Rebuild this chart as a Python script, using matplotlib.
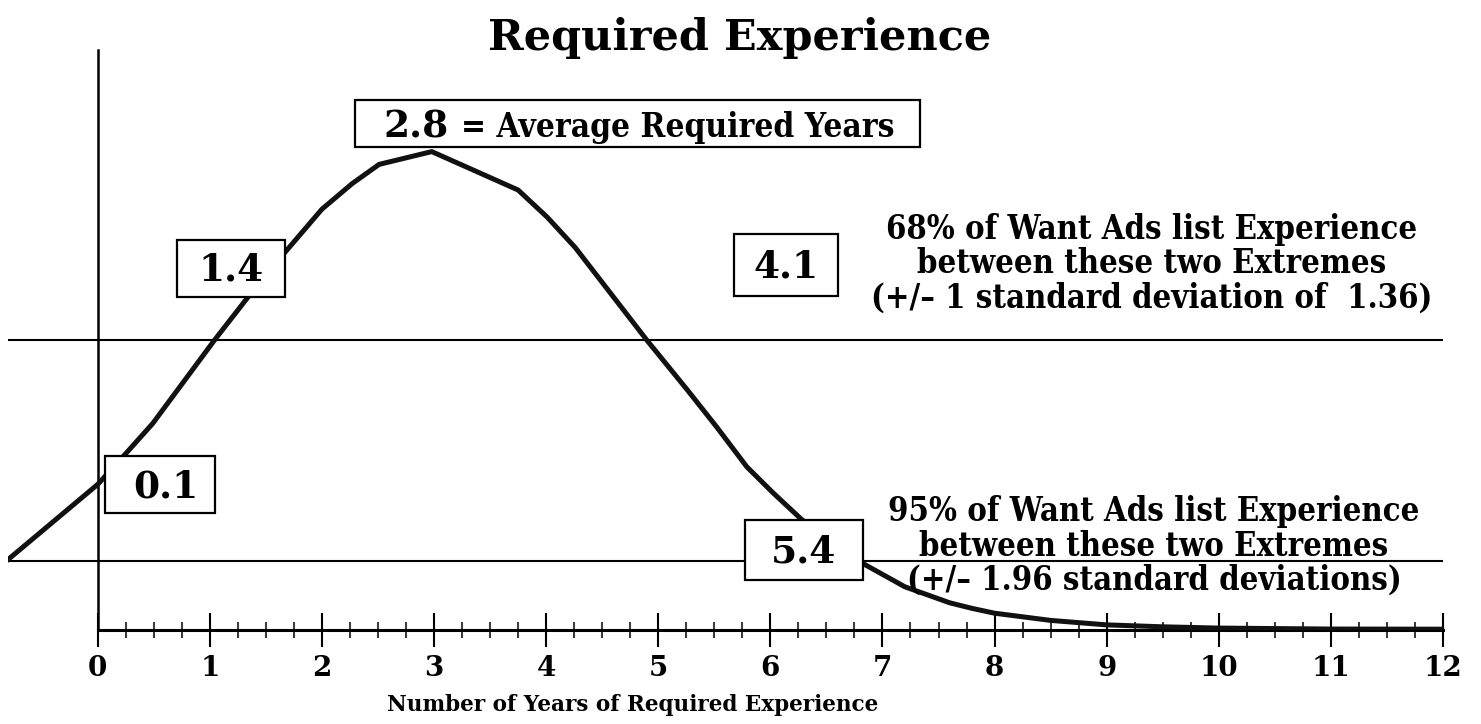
import numpy as np
import matplotlib
matplotlib.use('Agg')
import matplotlib.pyplot as plt
from matplotlib.patches import Rectangle
from matplotlib.ticker import FixedLocator
from matplotlib import font_manager

# Curve (years vs. share of want ads)
years = [-0.80, 0.00, 0.26, 0.49, 1.04, 1.34, 1.67, 2.00, 2.27, 2.51, 2.98,
         3.75, 4.01, 4.26, 4.90, 5.26, 5.52, 5.79, 6.02, 6.28, 6.84, 7.20,
         7.60, 7.80, 8.00, 8.50, 9.00, 9.50, 10.00, 11.00, 12.00]
share = [0.044, 0.091, 0.111, 0.129, 0.181, 0.208, 0.236, 0.263, 0.279, 0.291, 0.299,
         0.275, 0.258, 0.239, 0.181, 0.150, 0.127, 0.102, 0.086, 0.069, 0.041, 0.027,
         0.017, 0.0135, 0.0105, 0.006, 0.0032, 0.002, 0.0012, 0.0006, 0.0005]

# reference levels for the +/-1 sd and +/-1.96 sd bands
band_levels = [0.181, 0.043]

x_ticks = list(range(0, 13))
mean_label = '2.8'
sd_labels = ['0.1', '1.4', '4.1', '5.4']

W, H = 1481, 724
plt.rcParams['font.family'] = 'DejaVu Serif'
plt.rcParams['font.weight'] = 'bold'

# use the condensed cut of DejaVu Serif if it is installed
cond = [f.name for f in font_manager.fontManager.ttflist
        if f.name == 'DejaVu Serif' and f.stretch == 'condensed' and f.weight == 700]
stretch = 'condensed' if cond else 'normal'

fig = plt.figure(figsize=(W / 100, H / 100), dpi=100)
ax = fig.add_axes([8 / W, (H - 630) / H, 1435 / W, 630 / H])
ax.set_xlim(-0.8, 12.0)
ax.set_ylim(0, 630 / 1600)

ax.plot(years, share, color='#111111', lw=3.6, solid_joinstyle='round', zorder=3)
for lvl in band_levels:
    ax.axhline(lvl, color='black', lw=1.5, zorder=2)

# axes: x-axis from 0 to 12, y-axis at x = 0
for s in ['top', 'right']:
    ax.spines[s].set_visible(False)
ax.spines['bottom'].set_bounds(0, 12)
ax.spines['bottom'].set_linewidth(2.2)
ax.spines['left'].set_position(('data', 0))
ax.spines['left'].set_bounds(0, 580 / 1600)
ax.spines['left'].set_linewidth(1.8)
ax.set_yticks([])
ax.xaxis.set_major_locator(FixedLocator(x_ticks))
ax.xaxis.set_minor_locator(FixedLocator(np.arange(0, 12.01, 0.25)))
ax.tick_params(axis='x', which='major', direction='inout', length=24, width=1.5,
               pad=6, labelsize=20)
ax.tick_params(axis='x', which='minor', direction='inout', length=11, width=1.1)
ax.set_xticklabels([str(t) for t in x_ticks], fontweight='bold')
ax.patch.set_alpha(0)


def fx(x, y):
    return x / W, 1 - y / H


def box(x0, y0, x1, y1):
    r = Rectangle(fx(x0, y1), (x1 - x0) / W, (y1 - y0) / H, transform=fig.transFigure,
                  facecolor='white', edgecolor='black', lw=1.6, zorder=5)
    fig.add_artist(r)


fig.text(*fx(740, 38), 'Required Experience', fontsize=31, ha='center', va='center')
fig.text(*fx(633, 705), 'Number of Years of Required Experience', fontsize=15.5,
         ha='center', va='center')

# mean box
box(355, 100, 920, 147)
fig.text(*fx(383, 138), mean_label, fontsize=27, ha='left', va='baseline', zorder=6)
fig.text(*fx(461, 137), '= Average Required Years', fontsize=24, ha='left',
         va='baseline', zorder=6, fontstretch=stretch)

# sd boxes: (x0, y0, x1, y1) in pixels and text centre
boxes = [(105, 456, 215, 513, 166), (177, 240, 285, 297, 231),
         (734, 234, 838, 296, 786), (745, 520, 863, 580, 804)]
for lab, (x0, y0, x1, y1, xc) in zip(sd_labels, boxes):
    box(x0, y0, x1, y1)
    fig.text(*fx(xc, (y0 + y1) / 2 + 2), lab, fontsize=27, ha='center', va='center', zorder=6)

fig.text(*fx(1152, 264), '68% of Want Ads list Experience\nbetween these two Extremes\n'
         '(+/\u2013 1 standard deviation of  1.36)', fontsize=23.5, ha='center', va='center',
         linespacing=1.05, fontstretch=stretch)
fig.text(*fx(1154, 546), '95% of Want Ads list Experience\nbetween these two Extremes\n'
         '(+/\u2013 1.96 standard deviations)', fontsize=23.5, ha='center', va='center',
         linespacing=1.05, fontstretch=stretch)

fig.savefig('out.png', dpi=100)
